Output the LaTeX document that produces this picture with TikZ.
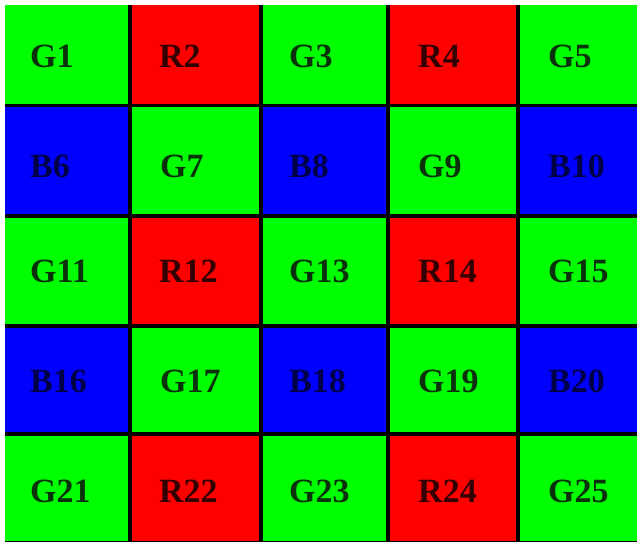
\documentclass[tikz,border=0pt]{standalone}
\usepackage{fontspec}
\setmainfont{Liberation Serif}
\usepackage{tikz}
\definecolor{bayergreen}{RGB}{0,255,0}
\definecolor{bayerred}{RGB}{255,0,0}
\definecolor{bayerblue}{RGB}{0,0,255}
\definecolor{gtext}{RGB}{10,50,10}
\definecolor{rtext}{RGB}{50,0,0}
\definecolor{btext}{RGB}{0,0,70}
\tikzset{
  gcell/.style = {fill=bayergreen},
  rcell/.style = {fill=bayerred},
  bcell/.style = {fill=bayerblue},
  sep/.style = {line width=3.5pt, draw=black},
  lbl/.style = {anchor=west, inner sep=0pt, font=\fontsize{34}{36}\selectfont\bfseries},
  glbl/.style = {lbl, text=gtext},
  rlbl/.style = {lbl, text=rtext},
  blbl/.style = {lbl, text=btext}
}
\begin{document}
\begin{tikzpicture}[x=1pt,y=-1pt]
  \useasboundingbox (0,0) rectangle (637,542);

  % Colour filters
  \fill[gcell] (5,5) rectangle (130,105.5);
  \fill[rcell] (130,5) rectangle (261,105.5);
  \fill[gcell] (261,5) rectangle (388,105.5);
  \fill[rcell] (388,5) rectangle (518,105.5);
  \fill[gcell] (518,5) rectangle (637,105.5);

  \fill[bcell] (5,105.5) rectangle (130,216);
  \fill[gcell] (130,105.5) rectangle (261,216);
  \fill[bcell] (261,105.5) rectangle (388,216);
  \fill[gcell] (388,105.5) rectangle (518,216);
  \fill[bcell] (518,105.5) rectangle (637,216);

  \fill[gcell] (5,216) rectangle (130,326);
  \fill[rcell] (130,216) rectangle (261,326);
  \fill[gcell] (261,216) rectangle (388,326);
  \fill[rcell] (388,216) rectangle (518,326);
  \fill[gcell] (518,216) rectangle (637,326);

  \fill[bcell] (5,326) rectangle (130,434);
  \fill[gcell] (130,326) rectangle (261,434);
  \fill[bcell] (261,326) rectangle (388,434);
  \fill[gcell] (388,326) rectangle (518,434);
  \fill[bcell] (518,326) rectangle (637,434);

  \fill[gcell] (5,434) rectangle (130,541);
  \fill[rcell] (130,434) rectangle (261,541);
  \fill[gcell] (261,434) rectangle (388,541);
  \fill[rcell] (388,434) rectangle (518,541);
  \fill[gcell] (518,434) rectangle (637,541);

  % Separating lines
  \draw[sep] (130,5) -- (130,541);
  \draw[sep] (261,5) -- (261,541);
  \draw[sep] (388,5) -- (388,541);
  \draw[sep] (518,5) -- (518,541);
  \draw[sep] (5,105.5) -- (637,105.5);
  \draw[sep] (5,216) -- (637,216);
  \draw[sep] (5,326) -- (637,326);
  \draw[sep] (5,434) -- (637,434);
  \draw[line width=1pt] (5,541) -- (637,541);

  % Labels
  \node (g1) [glbl] at (30,56) {G1};
  \node (r2) [rlbl] at (159,56) {R2};
  \node (g3) [glbl] at (289,56) {G3};
  \node (r4) [rlbl] at (418,56) {R4};
  \node (g5) [glbl] at (548,56) {G5};

  \node (b6) [blbl] at (30,166) {B6};
  \node (g7) [glbl] at (160,166) {G7};
  \node (b8) [blbl] at (289,166) {B8};
  \node (g9) [glbl] at (418,166) {G9};
  \node (b10) [blbl] at (548,166) {B10};

  \node (g11) [glbl] at (30,271) {G11};
  \node (r12) [rlbl] at (159,271) {R12};
  \node (g13) [glbl] at (289,271) {G13};
  \node (r14) [rlbl] at (418,271) {R14};
  \node (g15) [glbl] at (548,271) {G15};

  \node (b16) [blbl] at (30,381) {B16};
  \node (g17) [glbl] at (160,381) {G17};
  \node (b18) [blbl] at (289,381) {B18};
  \node (g19) [glbl] at (418,381) {G19};
  \node (b20) [blbl] at (548,381) {B20};

  \node (g21) [glbl] at (30,491) {G21};
  \node (r22) [rlbl] at (159,491) {R22};
  \node (g23) [glbl] at (289,491) {G23};
  \node (r24) [rlbl] at (418,491) {R24};
  \node (g25) [glbl] at (548,491) {G25};
\end{tikzpicture}
\end{document}
